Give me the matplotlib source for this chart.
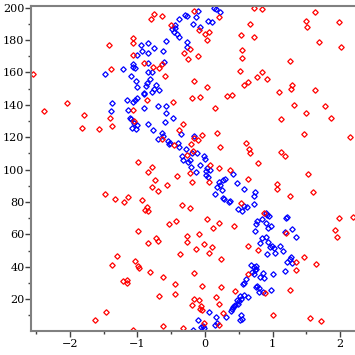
import matplotlib
matplotlib.use("Agg")
import matplotlib.pyplot as plt
from matplotlib.ticker import MultipleLocator

red_x = [-2.54, -1.42, -1.39, -2.38, -2.04, -1.79, -1.41,
         -0.75, -0.63, -0.80, -0.16, 0.21, -0.09, 0.00, 0.06, 0.03, -0.50, -1.06, -1.06, -1.06, -0.31, -0.22,
         -0.11, -0.25, -0.64, -0.68, -0.77, -0.90, -0.59, -0.86, -1.06, -0.17, 0.03, -0.19, -0.08, -0.48, 0.15,
         0.33, 0.40, 0.52,
         0.73, 0.85, 1.63, 1.49, 1.98, 1.51, 0.66, 0.54, 0.73, 1.68, 2.02, 0.55, 0.55, 1.26, 0.84, 0.77, 0.92,
         0.58, 0.63, 1.10, 1.29, 1.28, 1.63, 1.31, 1.77, 1.50, 1.86, 1.13,
         -1.82, -1.57, -1.38, -1.48, -1.33,
         -1.05, -0.32, -0.39, -0.63, -0.46, -0.16, -0.10, -0.04, -0.21, 0.17, 0.22, -0.18, -0.27, -0.99, 0.08,
         0.37, 0.20, -0.78, -0.84, -0.22, -0.41, -0.19, 0.06, -0.74, -0.56, -0.78, -0.69, -1.14, -1.20, -0.93,
         -0.86, -0.89, -0.85, -0.34, -0.22, 0.03, 0.20, 0.43, -0.43, -0.53, 0.12, -0.09, -0.26, -0.99, -0.72,
         1.47, 2.14, 0.61, 0.65, 0.66, 1.12, 1.18, 0.79, 1.53, 0.63, 1.07, 1.07, 1.60, 1.26, 0.54, 0.87, 1.20,
         1.98, 2.19, 1.92, 1.95,
         -0.84, -0.70, -0.37, -1.30, -1.37, -1.04, -0.99, -0.98, -0.82, -0.62, -1.22, -1.16, -1.16, -0.45, -0.44,
         -0.68, -1.47, -1.63, -1.07, -0.62,
         -0.26, -0.02, 0.11, -0.13, 0.06, 0.23, 0.63, 0.79, 1.34, 1.47, 1.64, 1.34, 0.64, -0.17, 0.89, 1.26,
         -0.04, 0.23, 0.45, 0.16, -0.17, -0.09, -0.19, -0.06, -0.04, -0.07, 0.20, 0.26, 0.21, -0.02, -0.33, 1.00,
         1.56, 1.72]
red_y = [159, 176.7, 162, 136, 141, 134, 131.7,
         196, 195, 193, 198, 194, 186, 184, 185, 180, 189, 181, 178, 171, 172, 174.7,
         170, 168, 165, 163, 163.6, 165.6, 158, 143, 137, 155, 151, 144, 144.7, 142, 137.9,
         145.7, 146, 161,
         199.6, 199, 197, 192, 191, 188, 190, 183, 181.7, 179, 176, 173.7, 168.7, 167, 160, 157, 155.8,
         152.5, 153.9, 147.7, 152, 150, 149, 139.7, 139, 134.8, 131.9, 131,
         126, 125, 126.7, 85, 82,
         130, 128, 124.5, 118.7, 115, 119.8, 118.3, 121.4, 116, 122.8, 114, 111.7, 108.8, 105, 103,
         99.8, 100.8, 101.9, 98.8, 97.7, 96, 92.6, 92.6, 93.6, 90.5, 89, 87, 83, 80, 81,
         76.7, 75, 74.7, 78, 76.5, 69.5, 67, 65, 68.3, 66.3, 63.8, 60, 59, 62, 57.6,
         121.8, 120, 116.7, 113, 110, 110.7, 108.4, 104, 97.3, 94, 91, 87.9, 86, 84, 79.4, 73, 61,
         70, 71, 63, 58.2,
         55, 56, 48, 47, 41, 43.8, 40.5, 39.5, 37, 34, 31, 32, 29.8, 29.4, 23,
         21.8, 12, 7, 0.8, 3.5,
         55.5, 54, 52, 51, 48.8, 45, 53, 50.4, 42.8, 45.9, 42, 37.9, 35.4, 36, 24, 26,
         28, 27.6, 25, 21.4, 20, 19.3, 16.7, 15.6, 13.6, 14, 17, 11.5, 4.1, 5.1, 2, 10,
         8.2, 6.6]

blue_x = [-1.48, -1.37, -1.39,
          -0.38, -0.29, -0.26, -0.10, -0.14, 0.14, 0.16, 0.22, 0.05, 0.10, -0.18, -0.07, -0.44, -0.49, -0.46,
          -0.42, -0.39, -0.45, -0.58, -0.95, -0.85, -1.00, -0.93, -0.84, -0.75, -0.62, -0.27, -0.26, -0.60,
          -0.85, -1.06, -1.04, -1.07, -1.21, -1.10, -0.85, -0.79, -0.82, -1.02, -1.00, -0.86, -0.88, -0.73,
          -0.75, -0.78, -0.68, -0.91, -0.90, -1.01, -1.03, -1.06, -1.15, -1.14, -0.90, -0.69, -0.58, -0.58,
          -0.47, -1.11, -1.09,
          -1.05, -1.01, -1.08, -1.02, -0.84, -0.59, -0.77, -0.36, -0.63, -0.62, -0.69, -0.55, -0.53, -0.52,
          -0.40, -0.39, -0.28, -0.16, -0.19, -0.12, -0.34, -0.32, -0.22, -0.25, -0.01, 0.00, -0.08, 0.03,
          0.01, 0.07, -0.21, -0.14, 0.01, 0.05, 0.41, 0.20, 0.22, 0.18, 0.27, 0.30, 0.25, 0.48, 0.15, 0.27,
          0.28, 0.37, 0.35, 0.49,
          0.58, 0.74, 0.73, 0.72, 0.57, 0.62, 0.55, 0.92, 0.95, 0.90, 0.77, 0.76, 0.84, 0.90, 0.97, 0.93,
          0.90, 0.74, 1.20, 1.22, 1.29, 1.18, 1.35, 0.84,
          0.82, 0.93, 0.99, 0.96, 1.02, 1.11, 1.16, 0.92, 1.04, 1.28, 1.26, 1.22, 1.29, 1.19, 0.68, 0.72,
          0.76, 0.74, 0.76, 0.69, 0.72, 0.86, 0.87, 0.81, 1.01, 0.60, 0.57, 0.56, 0.77, 0.80, 0.80, 0.75,
          0.86, 0.98, 0.57, 0.52, 0.54, 0.50, 0.64, 0.49, 0.47, 0.45, 0.42, 0.40, 0.38, 0.43, 0.06, 0.31,
          0.53, 0.52, 0.55, 0.16, 0.17, 0.15, -0.11, -0.03, -0.01, -0.06, -0.18]
blue_y = [159, 141, 136,
          193, 195.5, 194.8, 198, 194, 199.6, 199, 197, 192, 191, 190, 188, 189, 186.6, 185,
          183.5, 182, 187.5, 179.6, 177, 178, 171, 173, 172, 175, 173.5, 179, 176, 166.7,
          166, 165, 163, 163.5, 162, 158, 160.5, 160.5, 156, 155, 151, 153.7, 151.6, 152,
          150, 148, 149, 146.5, 147.5, 144, 143, 142, 143, 137, 138, 139, 139, 135,
          131.7, 132, 131.5,
          129, 127.6, 126, 125, 128, 129.6, 124.5, 121.8, 122.8, 120.8, 118.7, 117.9, 115.8, 116.6,
          116.7, 114, 113, 120.8, 110.5, 110.5, 108.6, 106, 106, 105, 108.4, 106.6, 103, 101,
          99, 100, 101.9, 98.8, 96.7, 95.7, 97, 92.6, 90.5, 89.5, 93.6, 94, 87.4, 91.6, 85, 82.7,
          82, 80.7, 80, 76,
          87.9, 86.4, 84, 79, 77.6, 76.7, 74.7, 72, 71.5, 73, 68.3, 66.3, 69.3, 67, 65, 63.8,
          58.6, 62, 70, 71, 63.4, 61.3, 58.2, 57.6,
          55, 55.5, 52.9, 52, 51.4, 53, 50, 48, 48.8, 46.3, 45, 42.8, 42.2, 37.7, 41, 40.2,
          40.6, 38, 38.4, 37, 35.8, 36, 33, 33.5, 35.4, 32.3, 30.2, 29.4, 28.4, 26.7, 24.7, 27.4,
          24.7, 26, 22.6, 22, 20, 19, 21.2, 17, 19.8, 16.4, 15, 14, 13, 15.8, 12.3, 8.8,
          10, 7.2, 8, 9.3, 5.1, 4.1, 7.2, 3.7, 2, 2.7, 0.8]

x_ticks = [-2, -1, 0, 1, 2]
y_ticks = [20, 40, 60, 80, 100, 120, 140, 160, 180, 200]

plt.rcParams['font.family'] = ['DejaVu Serif']
fig = plt.figure(figsize=(3.55, 3.55), dpi=100)
ax = fig.add_axes([0.0865, 0.0685, 0.9135, 0.9155])

ax.plot(blue_x, blue_y, linestyle='none', marker='D', markersize=2.8,
        markerfacecolor='none', markeredgecolor='#0000ff', markeredgewidth=0.9)
ax.plot(red_x, red_y, linestyle='none', marker='D', markersize=2.8,
        markerfacecolor='none', markeredgecolor='#ff0000', markeredgewidth=0.9)

ax.set_xlim(-2.58, 2.22)
ax.set_ylim(0.6, 201.2)
ax.set_xticks(x_ticks)
ax.set_yticks(y_ticks)
ax.xaxis.set_minor_locator(MultipleLocator(0.5))
ax.yaxis.set_minor_locator(MultipleLocator(10))
ax.set_xticklabels([str(t).replace('-', '\u2212') for t in x_ticks])

for side in ['left', 'bottom', 'top']:
    ax.spines[side].set_color('#808080')
    ax.spines[side].set_linewidth(1.5)
ax.spines['right'].set_visible(False)
ax.tick_params(which='major', length=4, width=1, color='#404040', labelsize=8, pad=2)
ax.tick_params(which='minor', length=2.5, width=1, color='#404040')
ax.tick_params(axis='y', pad=0.5)

fig.savefig('out.png', dpi=100)
